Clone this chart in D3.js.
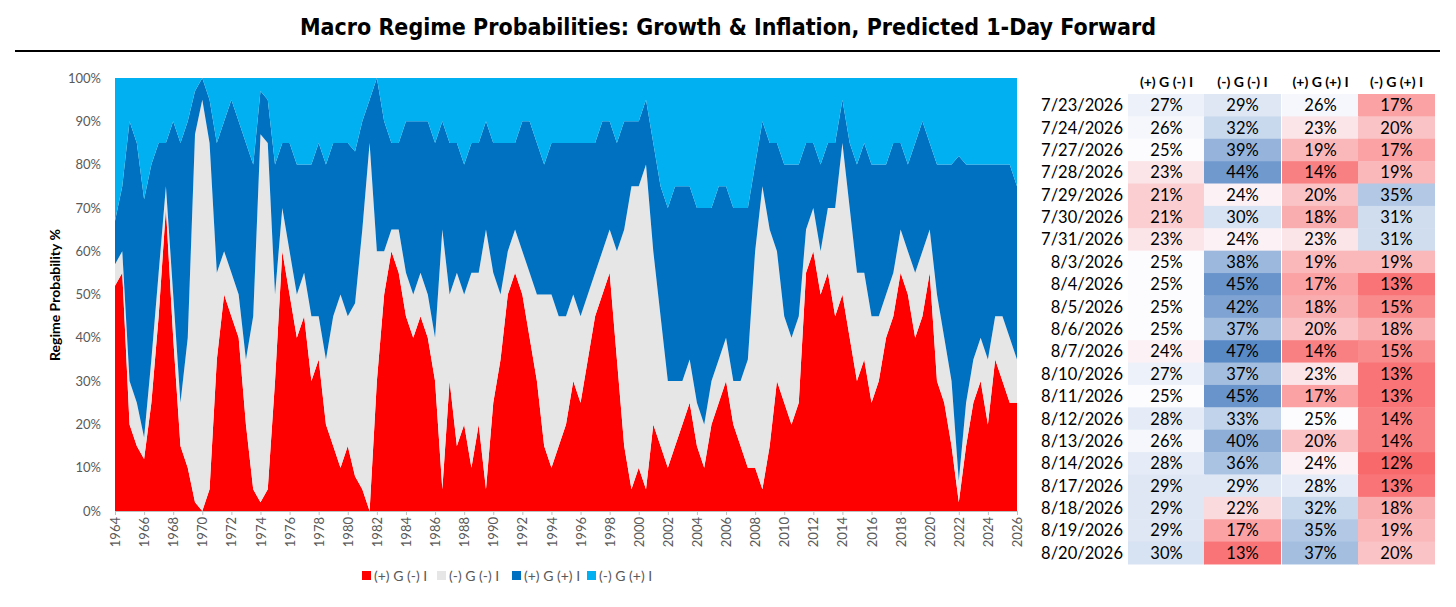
<!DOCTYPE html><html><head><meta charset="utf-8">
<script src="https://cdn.jsdelivr.net/npm/d3@7"></script>
<style>body{margin:0;background:#fff;font-family:Lato,"Open Sans",Arial,sans-serif}</style></head><body>
<svg id="c" width="1456" height="607"></svg>
<script>
const startYear=1964, step=0.5;
const redVals=[52,55,20,15,12,25,45,70,40,15, 10,2,0,5,35,50,45,40,20,5, 2,5,30,60,50,40,45,30,35,20, 15,10,15,8,5,0,30,50,60,55, 45,40,45,40,30,5,30,15,20,10, 20,5,25,35,50,55,50,40,30,15, 10,15,20,30,25,35,45,50,55,35, 15,5,10,5,20,15,10,15,20,25, 15,10,20,25,30,20,15,10,10,5, 15,30,25,20,25,55,60,50,55,45, 50,40,30,35,25,30,40,45,55,50, 40,45,55,30,25,15,2,15,25,30, 20,35,30,25,25];
const greyVals=[5,5,10,10,5,10,10,5,10,10, 30,85,95,80,20,10,10,10,15,40, 85,80,20,10,10,10,10,15,10,15, 30,40,30,40,60,85,30,10,5,10, 10,10,10,10,10,60,20,40,30,45, 35,60,30,15,10,10,10,15,20,35, 40,30,25,20,20,15,10,10,10,25, 50,70,65,75,40,30,20,15,10,10, 10,10,10,10,10,10,15,25,50,70, 50,30,20,20,20,10,10,10,15,25, 35,30,25,20,20,15,10,10,10,10, 15,15,10,20,15,15,5,10,10,10, 15,10,15,15,10];
const darkBlueVals=[10,15,60,60,55,45,30,10,40,60, 50,10,5,10,30,30,40,40,50,35, 10,10,30,15,25,30,25,35,40,45, 40,35,40,35,25,10,40,30,20,20, 35,40,35,40,45,25,35,30,30,30, 30,25,30,35,25,20,30,35,35,30, 35,40,40,35,40,35,30,30,25,25, 25,15,15,15,25,30,40,45,45,40, 45,50,40,40,35,40,40,35,20,15, 20,25,35,40,35,20,15,20,15,15, 10,15,25,30,35,35,30,30,20,20, 30,30,20,30,40,50,75,55,45,40, 45,35,35,40,40];
const seriesNames=["(+) G (-) I","(-) G (-) I","(+) G (+) I","(-) G (+) I"];
const seriesColors=["#FF0000","#E7E6E6","#0070C0","#00B0F0"];
const yTicks=[0,10,20,30,40,50,60,70,80,90,100];
const xTicks=d3.range(1964,2027,2);
const dates=["7/23/2026","7/24/2026","7/27/2026","7/28/2026","7/29/2026","7/30/2026","7/31/2026","8/3/2026","8/4/2026","8/5/2026","8/6/2026","8/7/2026","8/10/2026","8/11/2026","8/12/2026","8/13/2026","8/14/2026","8/17/2026","8/18/2026","8/19/2026","8/20/2026"];
const col1=[27,26,25,23,21,21,23,25,25,25,25,24,27,25,28,26,28,29,29,29,30];
const col2=[29,32,39,44,24,30,24,38,45,42,37,47,37,45,33,40,36,29,22,17,13];
const col3=[26,23,19,14,20,18,23,19,17,18,20,14,23,17,25,20,24,28,32,35,37];
const col4=[17,20,17,19,35,31,31,19,13,15,18,15,13,13,14,14,12,13,18,19,20];

const svg=d3.select("#c");
svg.append("text").attr("x",728).attr("y",35).attr("text-anchor","middle").attr("font-family",'"DejaVu Sans Condensed","Liberation Sans Narrow",sans-serif').attr("font-weight","bold").attr("font-stretch","condensed").attr("font-size",23).text("Macro Regime Probabilities: Growth & Inflation, Predicted 1-Day Forward");
svg.append("line").attr("x1",15).attr("x2",1440).attr("y1",51).attr("y2",51).attr("stroke","#000").attr("stroke-width",2);

const L=115,R=1017,T=78,B=511;
const x=d3.scaleLinear().domain([1964,2026]).range([L,R]);
const y=d3.scaleLinear().domain([0,100]).range([B,T]);
const data=redVals.map((r,i)=>{const g=greyVals[i],d=darkBlueVals[i];return {t:startYear+i*step,a:r,b:g,c:d,e:Math.max(0,100-r-g-d)};});
const stack=d3.stack().keys(["a","b","c","e"])(data);
const area=d3.area().x(d=>x(d.data.t)).y0(d=>y(d[0])).y1(d=>y(d[1]));
svg.append("g").selectAll("path").data(stack).join("path").attr("d",area).attr("fill",(d,i)=>seriesColors[i]);

const ya=svg.append("g").attr("transform",`translate(${L},0)`).call(d3.axisLeft(y).tickValues(yTicks).tickFormat(d=>d+"%").tickSize(0).tickPadding(14));
ya.select(".domain").remove();
ya.selectAll("text").attr("font-size",13).attr("fill","#595959").attr("font-family","Lato,'Open Sans',Arial");
const xa=svg.append("g").attr("transform",`translate(0,${B})`).call(d3.axisBottom(x).tickValues(xTicks).tickFormat(d3.format("d")).tickSize(4));
xa.select(".domain").attr("stroke","#bfbfbf");
xa.selectAll("line").attr("stroke","#bfbfbf");
xa.selectAll("text").attr("font-size",13).attr("font-family","Lato,'Open Sans',Arial").attr("fill","#595959").attr("transform","rotate(-90)").attr("text-anchor","end").attr("dx","-6").attr("x",0).attr("y",0).attr("dy","0.35em");
svg.append("text").attr("transform","translate(60,295) rotate(-90)").attr("text-anchor","middle").attr("font-weight","bold").attr("font-size",14).text("Regime Probability %");

const lg=svg.append("g");
const lx=[362,437,512,587];
seriesNames.forEach((n,i)=>{lg.append("rect").attr("x",lx[i]).attr("y",571).attr("width",9).attr("height",9).attr("fill",seriesColors[i]);
lg.append("text").attr("x",lx[i]+12).attr("y",581).attr("font-size",14).attr("fill","#595959").text(n);});

const cols=[col1,col2,col3,col4];
const cx=[1128,1204,1282,1358], cw=77, rh=22.38, ty0=94;
const color=d3.scaleLinear().domain([12,25,47]).range(["#F8696B","#FCFCFF","#5A8AC6"]);
seriesNames.forEach((n,j)=>svg.append("text").attr("x",cx[j]+cw/2).attr("y",87).attr("text-anchor","middle").attr("font-weight","bold").attr("font-size",14).text(n));
dates.forEach((d,i)=>{const yy=ty0+i*rh;
 svg.append("text").attr("x",1123).attr("y",yy+rh/2+6).attr("text-anchor","end").attr("font-size",16.5).text(d);
 cols.forEach((c,j)=>{svg.append("rect").attr("x",cx[j]).attr("y",yy).attr("width",cw).attr("height",rh+0.5).attr("fill",color(c[i]));
  svg.append("text").attr("x",cx[j]+cw/2).attr("y",yy+rh/2+6).attr("text-anchor","middle").attr("font-size",16.5).text(c[i]+"%");});
});
</script></body></html>
